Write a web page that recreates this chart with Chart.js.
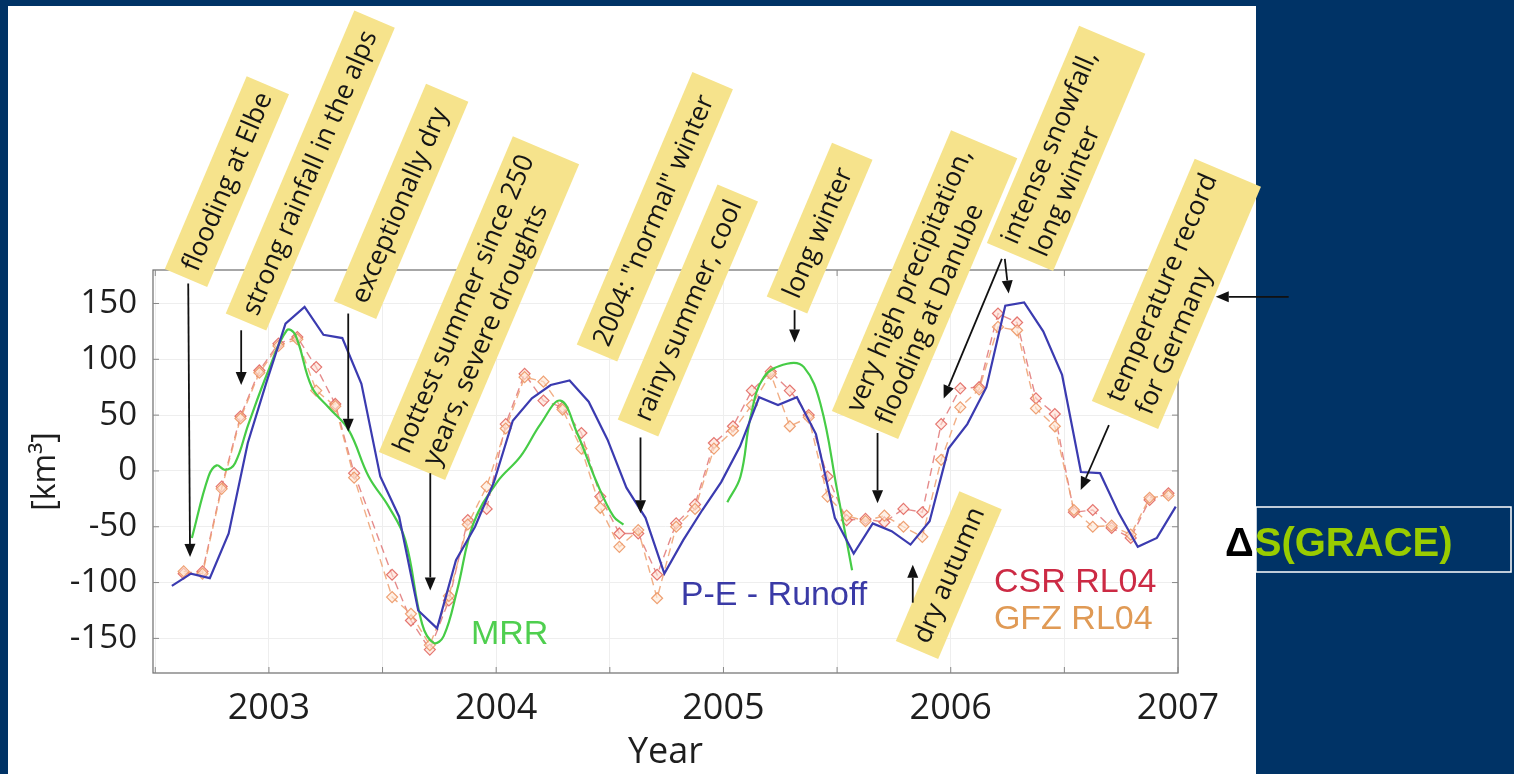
<!DOCTYPE html>
<html>
<head>
<meta charset="utf-8">
<title>Water storage change – GRACE vs. hydrological balance</title>
<script src="https://cdn.jsdelivr.net/npm/chart.js@4.4.1/dist/chart.umd.min.js"></script>
<style>
  html, body { margin: 0; padding: 0; background: #003366; overflow: hidden; }
  #wrap { position: absolute; left: 0; top: 0; width: 1514px; height: 774px; }
</style>
</head>
<body>
<div id="wrap"><canvas id="c" width="1514" height="774"></canvas></div>
<script>
// ---- axis ticks ----
const xTickValues = [2002.5, 2003, 2003.5, 2004, 2004.5, 2005, 2005.5, 2006, 2006.5, 2007];
const xTickLabels = ['', '2003', '', '2004', '', '2005', '', '2006', '', '2007'];
const yTickValues = [-150, -100, -50, 0, 50, 100, 150];
const yTickLabels = ['-150', '-100', '-50', '0', '50', '100', '150'];

// ---- P-E - Runoff (monthly) ----
const peYears = [2002.573, 2002.657, 2002.740, 2002.823, 2002.907, 2002.990, 2003.073, 2003.157, 2003.240, 2003.323,
  2003.407, 2003.490, 2003.573, 2003.657, 2003.740, 2003.823, 2003.907, 2003.990, 2004.073, 2004.157,
  2004.240, 2004.323, 2004.407, 2004.490, 2004.573, 2004.657, 2004.740, 2004.823, 2004.907, 2004.990,
  2005.073, 2005.157, 2005.240, 2005.323, 2005.407, 2005.490, 2005.573, 2005.657, 2005.740, 2005.823,
  2005.907, 2005.990, 2006.073, 2006.157, 2006.240, 2006.323, 2006.407, 2006.490, 2006.573, 2006.657,
  2006.740, 2006.823, 2006.907, 2006.990];
const peValues = [-103, -92, -96, -56, 25, 80, 132, 147, 122, 119,
  78, -5, -41, -125, -141, -80, -50, -10, 45, 65,
  77, 81, 62, 28, -15, -42, -92, -62, -35, -10,
  22, 66, 59, 66, 33, -42, -74, -47, -54, -66,
  -45, 20, 42, 75, 148, 151, 125, 86, -1, -2,
  -38, -68, -60, -32];

// ---- MRR (two periods; null separates them) ----
const mrrYears = [2002.661, 2002.734, 2002.770, 2002.807, 2002.851, 2002.910, 2002.998, 2003.079, 2003.116, 2003.189,
  2003.262, 2003.350, 2003.439, 2003.527, 2003.600, 2003.674, 2003.725, 2003.769, 2003.828, 2003.900,
  2004.004, 2004.107, 2004.195, 2004.283, 2004.356, 2004.444, 2004.517, 2004.560,
  2004.800,
  2005.017, 2005.075, 2005.119, 2005.178, 2005.280, 2005.354, 2005.427, 2005.500, 2005.566];
const mrrValues = [-60, -5, 5, 1, 7, 42, 90, 126, 122, 75,
  57, 37, -5, -32, -62, -137, -154, -148, -107, -47,
  -10, 13, 42, 63, 34, -11, -41, -48,
  null,
  -28, -5, 48, 84, 96, 93, 60, -17, -89];

// ---- GRACE monthly solutions (June 2003 missing) ----
const graceYears = [2002.625, 2002.708, 2002.792, 2002.875, 2002.958, 2003.042, 2003.125, 2003.208, 2003.292, 2003.375,
  2003.542, 2003.625, 2003.708, 2003.792, 2003.875, 2003.958, 2004.042, 2004.125, 2004.208, 2004.292,
  2004.375, 2004.458, 2004.542, 2004.625, 2004.708, 2004.792, 2004.875, 2004.958, 2005.042, 2005.125,
  2005.208, 2005.292, 2005.375, 2005.458, 2005.542, 2005.625, 2005.708, 2005.792, 2005.875, 2005.958,
  2006.042, 2006.125, 2006.208, 2006.292, 2006.375, 2006.458, 2006.542, 2006.625, 2006.708, 2006.792,
  2006.875, 2006.958];
const csrValues = [-92, -90, -14, 49, 90, 114, 120, 93, 60, -2,
  -93, -134, -160, -116, -44, -34, 42, 87, 63, 57,
  34, -23, -56, -56, -93, -47, -30, 25, 40, 72,
  89, 72, 50, -5, -44, -43, -46, -34, -37, 42,
  74, 75, 141, 133, 65, 51, -37, -35, -51, -60,
  -26, -20];
const gfzValues = [-90, -92, -16, 47, 88, 112, 118, 72, 58, -6,
  -113, -128, -156, -112, -48, -14, 38, 84, 80, 55,
  20, -33, -68, -53, -114, -50, -34, 20, 36, 59,
  87, 40, 48, -23, -40, -45, -40, -50, -59, 10,
  57, 73, 129, 126, 56, 40, -35, -50, -49, -57,
  -24, -22];

// ---- event notes: text lines, box placement, arrows in data units ----
const notes = [
  { lines: ['flooding at Elbe'], bx: 186, by: 278, len: 206, t: 46,
    arrows: [[2002.645, 168, 2002.653, -77]] },
  { lines: ['strong rainfall in the alps'], bx: 246, by: 322, len: 329, t: 44,
    arrows: [[2002.878, 126, 2002.878, 77]] },
  { lines: ['exceptionally dry'], bx: 355, by: 310, len: 236, t: 46,
    arrows: [[2003.349, 141, 2003.349, 35]] },
  { lines: ['hottest summer since 250', 'years, severe droughts'], bx: 412, by: 466, len: 343, t: 72,
    arrows: [[2003.710, -2, 2003.710, -107]] },
  { lines: ['2004: "normal" winter'], bx: 597, by: 353, len: 296, t: 44, arrows: [] },
  { lines: ['rainy summer, cool'], bx: 638, by: 428, len: 248, t: 44,
    arrows: [[2004.635, 30, 2004.635, -38]] },
  { lines: ['long winter'], bx: 787, by: 305, len: 167, t: 44,
    arrows: [[2005.313, 144, 2005.313, 115]] },
  { lines: ['very high precipitation,', 'flooding at Danube'], bx: 865, by: 425, len: 305, t: 72,
    arrows: [[2005.678, 34, 2005.678, -29]] },
  { lines: ['intense snowfall,', 'long winter'], bx: 1020, by: 257, len: 236, t: 72,
    arrows: [[2006.238, 190, 2006.255, 159], [2006.225, 190, 2005.969, 65]] },
  { lines: ['temperature record', 'for Germany'], bx: 1125, by: 415, len: 250, t: 72,
    arrows: [[2006.696, 41, 2006.572, -17], [2007.487, 156, 2007.166, 156]] },
  { lines: ['dry autumn'], bx: 917, by: 650, len: 145, t: 46,
    arrows: [[2005.833, -118, 2005.833, -84]] }
];

// ---- series name labels placed inside the plot (data units) ----
const seriesLabels = [
  { text: 'MRR', x: 2003.889, y: -147, color: '#4fcf4f' },
  { text: 'P-E - Runoff', x: 2004.812, y: -112, color: '#3a3aa6' },
  { text: 'CSR RL04', x: 2006.190, y: -100, color: '#cc2a44' },
  { text: 'GFZ RL04', x: 2006.190, y: -133, color: '#e09a55' }
];

const NAVY = '#003366';
const NOTE_FILL = '#f6e38c';
const NOTE_ANGLE = -67 * Math.PI / 180;

const pts = (xs, ys) => xs.map((x, i) => ({ x: x, y: ys[i] }));

// page background: navy frame with the white figure panel
const backdrop = {
  id: 'backdrop',
  beforeDraw(chart) {
    const ctx = chart.ctx;
    ctx.save();
    ctx.fillStyle = NAVY;
    ctx.fillRect(0, 0, chart.width, chart.height);
    ctx.fillStyle = '#ffffff';
    ctx.fillRect(8, 6, 1248, 768);
    ctx.restore();
  }
};

// full frame around the plot with small inward tick marks
const frame = {
  id: 'frame',
  afterDatasetsDraw(chart) {
    const { ctx, chartArea: a, scales } = chart;
    ctx.save();
    ctx.strokeStyle = '#6d6d6d';
    ctx.lineWidth = 1.2;
    ctx.strokeRect(a.left, a.top, a.right - a.left, a.bottom - a.top);
    ctx.strokeStyle = '#888';
    ctx.lineWidth = 1;
    ctx.beginPath();
    xTickValues.forEach(v => {
      const px = scales.x.getPixelForValue(v);
      ctx.moveTo(px, a.bottom); ctx.lineTo(px, a.bottom - 6);
      ctx.moveTo(px, a.top); ctx.lineTo(px, a.top + 6);
    });
    yTickValues.forEach(v => {
      const py = scales.y.getPixelForValue(v);
      ctx.moveTo(a.left, py); ctx.lineTo(a.left + 6, py);
      ctx.moveTo(a.right, py); ctx.lineTo(a.right - 6, py);
    });
    ctx.stroke();
    ctx.restore();
  }
};

function arrow(ctx, x0, y0, x1, y1) {
  const ang = Math.atan2(y1 - y0, x1 - x0);
  const head = 13, half = 5.5;
  const bx = x1 - head * Math.cos(ang), by = y1 - head * Math.sin(ang);
  ctx.beginPath();
  ctx.moveTo(x0, y0);
  ctx.lineTo(bx, by);
  ctx.stroke();
  ctx.beginPath();
  ctx.moveTo(x1, y1);
  ctx.lineTo(bx + half * Math.sin(ang), by - half * Math.cos(ang));
  ctx.lineTo(bx - half * Math.sin(ang), by + half * Math.cos(ang));
  ctx.closePath();
  ctx.fill();
}

// series names, event notes, arrows and the ΔS(GRACE) tag
const overlay = {
  id: 'overlay',
  afterDraw(chart) {
    const { ctx, scales } = chart;
    const X = v => scales.x.getPixelForValue(v);
    const Y = v => scales.y.getPixelForValue(v);
    ctx.save();

    ctx.font = '34px "Liberation Sans", Arial, sans-serif';
    ctx.textBaseline = 'middle';
    ctx.textAlign = 'left';
    seriesLabels.forEach(l => {
      ctx.fillStyle = l.color;
      ctx.fillText(l.text, X(l.x), Y(l.y));
    });

    notes.forEach(n => {
      ctx.save();
      ctx.translate(n.bx, n.by);
      ctx.rotate(NOTE_ANGLE);
      ctx.font = '26.5px "Open Sans", sans-serif';
      const pad = 9;
      const tw = Math.max(...n.lines.map(s => ctx.measureText(s).width));
      const len = Math.max(n.len, tw + 2 * pad);
      ctx.fillStyle = NOTE_FILL;
      ctx.fillRect(0, -n.t / 2, len, n.t);
      ctx.fillStyle = '#151515';
      ctx.textBaseline = 'middle';
      ctx.textAlign = 'left';
      const lh = 32;
      n.lines.forEach((s, i) => {
        ctx.fillText(s, pad, (i - (n.lines.length - 1) / 2) * lh + 1);
      });
      ctx.restore();
    });

    ctx.strokeStyle = '#111';
    ctx.fillStyle = '#111';
    ctx.lineWidth = 1.8;
    notes.forEach(n => n.arrows.forEach(a => arrow(ctx, X(a[0]), Y(a[1]), X(a[2]), Y(a[3]))));

    // ΔS(GRACE) tag on the right
    ctx.strokeStyle = '#ffffff';
    ctx.lineWidth = 1.5;
    ctx.strokeRect(1256, 507, 255, 65);
    ctx.font = 'bold 40px "Liberation Sans", Arial, sans-serif';
    ctx.textBaseline = 'alphabetic';
    ctx.fillStyle = '#000000';
    ctx.fillText('\u0394', 1225, 556);
    const dw = ctx.measureText('\u0394').width;
    ctx.fillStyle = '#99cc00';
    ctx.fillText('S(GRACE)', 1225 + dw + 1, 556);
    ctx.restore();
  }
};

new Chart(document.getElementById('c'), {
  type: 'line',
  data: {
    datasets: [
      { label: 'P-E - Runoff', data: pts(peYears, peValues), borderColor: '#3b3bb0', borderWidth: 2.2,
        pointRadius: 0, tension: 0 },
      { label: 'MRR', data: pts(mrrYears, mrrValues), borderColor: '#46cc46', borderWidth: 2.2,
        pointRadius: 0, tension: 0.4, spanGaps: false },
      { label: 'GFZ RL04', data: pts(graceYears, gfzValues), borderColor: 'rgba(238,160,112,0.85)',
        borderWidth: 1.4, borderDash: [8, 5], pointStyle: 'rectRot', pointRadius: 5.5,
        pointBorderColor: 'rgba(236,150,100,0.9)', pointBackgroundColor: 'rgba(255,232,214,0.6)',
        pointBorderWidth: 1.2, tension: 0 },
      { label: 'CSR RL04', data: pts(graceYears, csrValues), borderColor: 'rgba(222,110,110,0.8)',
        borderWidth: 1.4, borderDash: [8, 5], pointStyle: 'rectRot', pointRadius: 5.5,
        pointBorderColor: 'rgba(226,104,98,0.9)', pointBackgroundColor: 'rgba(255,222,210,0.6)',
        pointBorderWidth: 1.2, tension: 0 }
    ]
  },
  options: {
    responsive: false,
    animation: false,
    events: [],
    layout: { padding: { left: 0, right: 336, top: 270, bottom: 0 } },
    plugins: { legend: { display: false }, tooltip: { enabled: false } },
    scales: {
      x: {
        type: 'linear', min: 2002.49, max: 2007,
        afterBuildTicks: s => { s.ticks = xTickValues.map(v => ({ value: v })); },
        afterFit: s => { s.height = 101; },
        ticks: {
          autoSkip: false, maxRotation: 0, padding: 14, color: '#1e1e1e',
          font: { family: '"Open Sans", sans-serif', size: 36 },
          callback: (v, i) => xTickLabels[i]
        },
        grid: { color: '#eeeeee', drawTicks: false },
        border: { display: false },
        title: { display: true, text: 'Year', color: '#1e1e1e', padding: { top: 0, bottom: 0 },
          font: { family: '"Open Sans", sans-serif', size: 36 } }
      },
      y: {
        type: 'linear', min: -181, max: 180,
        afterBuildTicks: s => { s.ticks = yTickValues.map(v => ({ value: v })); },
        afterFit: s => { s.width = 153; },
        ticks: {
          padding: 16, color: '#1e1e1e',
          font: { family: '"Open Sans", sans-serif', size: 33 },
          callback: (v, i) => yTickLabels[i]
        },
        grid: { color: '#eeeeee', drawTicks: false },
        border: { display: false },
        title: { display: true, text: '[km\u00b3]', color: '#1e1e1e', padding: { top: 27, bottom: 0 },
          font: { family: '"Open Sans", sans-serif', size: 32 } }
      }
    }
  },
  plugins: [backdrop, frame, overlay]
});
</script>
</body>
</html>
